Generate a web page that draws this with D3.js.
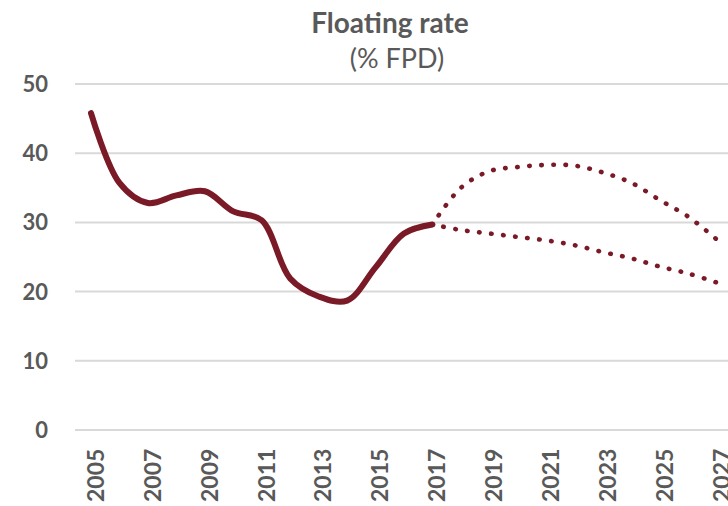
<!DOCTYPE html>
<html>
<head>
<meta charset="utf-8">
<script src="https://cdn.jsdelivr.net/npm/d3@7"></script>
<style>
  html, body { margin: 0; padding: 0; background: #fff; }
  svg { display: block; }
  text { font-family: "Lato", "Open Sans", sans-serif; fill: #595959; }
</style>
</head>
<body>
<svg id="chart" width="728" height="506"></svg>
<script>
const titleText = "Floating rate";
const subtitleText = "(% FPD)";

const years = [2005, 2006, 2007, 2008, 2009, 2010, 2011, 2012, 2013, 2014, 2015, 2016, 2017];
const actual = [45.8, 35.7, 32.8, 33.9, 34.5, 31.6, 30.3, 21.9, 19.3, 18.7, 23.5, 28.4, 29.7];

const projYears = [2017, 2018, 2019, 2020, 2021, 2022, 2023, 2024, 2025, 2026, 2027];
const projHigh = [29.7, 35.0, 37.4, 38.0, 38.3, 38.2, 37.2, 35.7, 33.2, 30.8, 27.5];
const projLow  = [29.7, 28.9, 28.4, 27.9, 27.4, 26.7, 25.7, 24.8, 23.6, 22.6, 21.3];

const yTicks = [0, 10, 20, 30, 40, 50];
const xTickLabels = [2005, 2007, 2009, 2011, 2013, 2015, 2017, 2019, 2021, 2023, 2025, 2027];

const lineColor = "#7a1a27";
const svg = d3.select("#chart");

const x = d3.scaleLinear().domain([2005, 2027]).range([91, 717]);
const y = d3.scaleLinear().domain([0, 50]).range([430, 84]);

// gridlines
svg.append("g").selectAll("line").data(yTicks).join("line")
  .attr("x1", 75).attr("x2", 728)
  .attr("y1", d => y(d)).attr("y2", d => y(d))
  .attr("stroke", "#d9d9d9").attr("stroke-width", 2);

// y labels
svg.append("g").selectAll("text").data(yTicks).join("text")
  .attr("x", 48).attr("y", d => y(d)).attr("dy", "0.36em")
  .attr("text-anchor", "end")
  .attr("font-size", 22).attr("font-weight", 700)
  .text(d => d);

// x labels
svg.append("g").selectAll("text").data(xTickLabels).join("text")
  .attr("transform", d => `translate(${x(d) + 4.5},502) rotate(-90)`)
  .attr("dy", "0.36em")
  .attr("text-anchor", "start")
  .attr("font-size", 23).attr("font-weight", 700)
  .text(d => d);

// title
svg.append("text").attr("x", 390).attr("y", 33).attr("text-anchor", "middle")
  .attr("font-size", 28).attr("font-weight", 700).text(titleText);
svg.append("text").attr("x", 397).attr("y", 68).attr("text-anchor", "middle")
  .attr("font-size", 27).attr("font-weight", 400).text(subtitleText);

const line = d3.line().x(d => x(d[0])).y(d => y(d[1])).curve(d3.curveCatmullRom.alpha(0.5));

svg.append("path")
  .datum(years.map((yr, i) => [yr, actual[i]]))
  .attr("d", line)
  .attr("fill", "none").attr("stroke", lineColor)
  .attr("stroke-width", 6).attr("stroke-linecap", "round").attr("stroke-linejoin", "round");

[projHigh, projLow].forEach(series => {
  svg.append("path")
    .datum(projYears.map((yr, i) => [yr, series[i]]))
    .attr("d", line)
    .attr("fill", "none").attr("stroke", lineColor)
    .attr("stroke-width", 4.6).attr("stroke-linecap", "round")
    .attr("stroke-dasharray", "0.5 11.6")
    .attr("stroke-dashoffset", -11);
});
</script>
</body>
</html>
